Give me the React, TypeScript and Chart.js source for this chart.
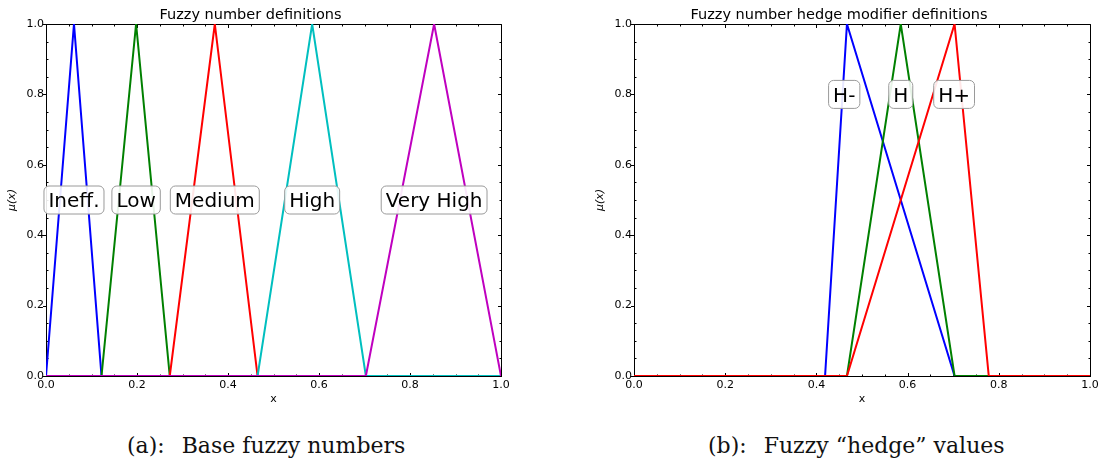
import React, { useEffect, useRef } from "react";
import { Chart, registerables } from "chart.js";

Chart.register(...registerables);

const FONT = "'DejaVu Sans', sans-serif";
const SERIF = "'DejaVu Serif', serif";

// shared axis ticks
const axisTicks = [0, 0.2, 0.4, 0.6, 0.8, 1.0];
const minorTicks = [0.05, 0.1, 0.15, 0.25, 0.3, 0.35, 0.45, 0.5, 0.55, 0.65, 0.7, 0.75, 0.85, 0.9, 0.95];

// Panel (a): base fuzzy numbers
const baseTitle = "Fuzzy number definitions";
const baseNames = ["Ineff.", "Low", "Medium", "High", "Very High"];
const baseColors = ["#0000ff", "#008000", "#ff0000", "#00bfbf", "#bf00bf"];
const ineffX = [0, 0.0615, 0.122, 1.0];
const ineffY = [0, 1, 0, 0];
const lowX = [0, 0.122, 0.198, 0.272, 1.0];
const lowY = [0, 0, 1, 0, 0];
const mediumX = [0, 0.272, 0.371, 0.465, 1.0];
const mediumY = [0, 0, 1, 0, 0];
const highX = [0, 0.465, 0.585, 0.703, 1.0];
const highY = [0, 0, 1, 0, 0];
const veryHighX = [0, 0.703, 0.853, 1.0];
const veryHighY = [0, 0, 1, 0];
const baseLabelX = [0.0615, 0.198, 0.371, 0.585, 0.853];
const baseLabelY = [0.5, 0.5, 0.5, 0.5, 0.5];

// Panel (b): hedge modifiers
const hedgeTitle = "Fuzzy number hedge modifier definitions";
const hedgeNames = ["H-", "H", "H+"];
const hedgeColors = ["#0000ff", "#008000", "#ff0000"];
const hMinusX = [0, 0.419, 0.467, 0.703, 1.0];
const hMinusY = [0, 0, 1, 0, 0];
const hX = [0, 0.467, 0.585, 0.703, 1.0];
const hY = [0, 0, 1, 0, 0];
const hPlusX = [0, 0.467, 0.703, 0.778, 1.0];
const hPlusY = [0, 0, 1, 0, 0];
const hedgeLabelX = [0.461, 0.585, 0.702];
const hedgeLabelY = [0.8, 0.8, 0.8];

type Series = { x: number[]; y: number[] };

const framePlugin = {
  id: "frameTicks",
  beforeDatasetsDraw(chart: any) {
    const { ctx, chartArea } = chart;
    const xs = chart.scales.x;
    const ys = chart.scales.y;
    const L = Math.round(chartArea.left) + 0.5;
    const R = Math.round(chartArea.right) + 0.5;
    const T = Math.round(chartArea.top) + 0.5;
    const B = Math.round(chartArea.bottom) + 0.5;
    ctx.save();
    ctx.strokeStyle = "#000";
    ctx.lineWidth = 1;
    ctx.beginPath();
    ctx.moveTo(L, T);
    ctx.lineTo(R, T);
    ctx.lineTo(R, B);
    ctx.stroke();
    const draw = (vals: number[], len: number, major: boolean) => {
      ctx.beginPath();
      for (const v of vals) {
        const px = Math.round(xs.getPixelForValue(v)) + 0.5;
        ctx.moveTo(px, B);
        ctx.lineTo(px, B - len);
        ctx.moveTo(px, T);
        ctx.lineTo(px, T + len);
        const py = Math.round(ys.getPixelForValue(v)) + 0.5;
        if (major) {
          ctx.moveTo(L - len, py);
          ctx.lineTo(L, py);
        } else {
          ctx.moveTo(L, py);
          ctx.lineTo(L + len, py);
        }
        ctx.moveTo(R, py);
        ctx.lineTo(R - len, py);
      }
      ctx.stroke();
    };
    draw(axisTicks, 3.5, true);
    draw(minorTicks, 2, false);
    ctx.restore();
  },
};

function makeLabelPlugin(texts: string[], lx: number[], ly: number[]) {
  return {
    id: "boxLabels",
    afterDatasetsDraw(chart: any) {
      const { ctx } = chart;
      const xs = chart.scales.x;
      const ys = chart.scales.y;
      ctx.save();
      ctx.font = `20px ${FONT}`;
      texts.forEach((t, i) => {
        const px = xs.getPixelForValue(lx[i]);
        const py = ys.getPixelForValue(ly[i]);
        const w = ctx.measureText(t).width;
        const bw = w + 9;
        const bh = 28;
        const x0 = px - bw / 2;
        const y0 = py - bh / 2;
        const r = 5;
        ctx.beginPath();
        ctx.moveTo(x0 + r, y0);
        ctx.lineTo(x0 + bw - r, y0);
        ctx.arcTo(x0 + bw, y0, x0 + bw, y0 + r, r);
        ctx.lineTo(x0 + bw, y0 + bh - r);
        ctx.arcTo(x0 + bw, y0 + bh, x0 + bw - r, y0 + bh, r);
        ctx.lineTo(x0 + r, y0 + bh);
        ctx.arcTo(x0, y0 + bh, x0, y0 + bh - r, r);
        ctx.lineTo(x0, y0 + r);
        ctx.arcTo(x0, y0, x0 + r, y0, r);
        ctx.closePath();
        ctx.fillStyle = "rgba(255,255,255,0.9)";
        ctx.fill();
        ctx.strokeStyle = "#9a9a9a";
        ctx.lineWidth = 1;
        ctx.stroke();
        ctx.fillStyle = "#000";
        ctx.textAlign = "center";
        ctx.textBaseline = "alphabetic";
        ctx.fillText(t, px, py + 7.3);
      });
      ctx.restore();
    },
  };
}

type PanelProps = {
  left: number;
  width: number;
  plotWidth: number;
  title: string;
  series: Series[];
  names: string[];
  colors: string[];
  labelX: number[];
  labelY: number[];
};

const CANVAS_H = 410;
const PLOT_BOTTOM = 376;
const Y_AXIS_W = 46;

function Panel(props: PanelProps) {
  const ref = useRef<HTMLCanvasElement | null>(null);
  useEffect(() => {
    if (!ref.current) return;
    const tickFont = { family: FONT, size: 11, lineHeight: 1.2 };
    const chart = new Chart(ref.current, {
      type: "line",
      data: {
        datasets: props.series.map((s, i) => ({
          label: props.names[i],
          data: s.x.map((x, j) => ({ x, y: s.y[j] })),
          borderColor: props.colors[i],
          backgroundColor: props.colors[i],
          borderWidth: 2,
          pointRadius: 0,
          fill: false,
          tension: 0,
          order: props.series.length - i,
        })),
      },
      options: {
        animation: false,
        responsive: false,
        devicePixelRatio: 1,
        layout: {
          padding: { left: 0, top: 0, bottom: 0, right: props.width - Y_AXIS_W - props.plotWidth },
        },
        plugins: {
          legend: { display: false },
          tooltip: { enabled: false },
          title: {
            display: true,
            text: props.title,
            color: "#000",
            font: { family: FONT, size: 14.5, weight: "normal", lineHeight: 1.2 },
            padding: { top: 6.3, bottom: 0.3 },
          },
        },
        scales: {
          x: {
            type: "linear",
            min: 0,
            max: 1,
            position: "bottom",
            afterFit: (s: any) => {
              s.height = CANVAS_H - PLOT_BOTTOM;
            },
            afterBuildTicks: (s: any) => {
              s.ticks = axisTicks.map((v) => ({ value: v }));
            },
            ticks: {
              font: tickFont,
              color: "#000",
              padding: 3,
              maxRotation: 0,
              autoSkip: false,
              callback: (v: any) => Number(v).toFixed(1),
            },
            grid: { display: false, drawTicks: false },
            border: { display: true, color: "#000", width: 1 },
            title: {
              display: true,
              text: "x",
              color: "#000",
              font: tickFont,
              padding: { top: 0, bottom: 4.4 },
            },
          },
          y: {
            type: "linear",
            min: 0,
            max: 1,
            position: "left",
            afterFit: (s: any) => {
              s.width = Y_AXIS_W;
            },
            afterBuildTicks: (s: any) => {
              s.ticks = axisTicks.map((v) => ({ value: v }));
            },
            ticks: {
              font: tickFont,
              color: "#000",
              padding: 2,
              autoSkip: false,
              callback: (v: any) => Number(v).toFixed(1),
            },
            grid: { display: false, drawTicks: false },
            border: { display: true, color: "#000", width: 1 },
            title: {
              display: true,
              text: "μ(x)",
              color: "#000",
              font: { family: FONT, size: 11, style: "italic", lineHeight: 1.2 },
              padding: { top: 5.9, bottom: 0 },
            },
          },
        },
      },
      plugins: [framePlugin, makeLabelPlugin(props.names, props.labelX, props.labelY)],
    } as any);
    return () => chart.destroy();
  }, []);
  return (
    <canvas
      ref={ref}
      width={props.width}
      height={CANVAS_H}
      style={{ position: "absolute", left: props.left, top: 0, width: props.width, height: CANVAS_H }}
    />
  );
}

export default function App() {
  const captionStyle: React.CSSProperties = {
    position: "absolute",
    top: 433,
    font: `22px ${SERIF}`,
    lineHeight: "26px",
    whiteSpace: "pre",
    color: "#111",
  };
  return (
    <div
      style={{
        position: "absolute",
        left: 0,
        top: 0,
        width: 1102,
        height: 464,
        background: "#fff",
        overflow: "hidden",
      }}
    >
      <Panel
        left={0}
        width={540}
        plotWidth={455}
        title={baseTitle}
        series={[
          { x: ineffX, y: ineffY },
          { x: lowX, y: lowY },
          { x: mediumX, y: mediumY },
          { x: highX, y: highY },
          { x: veryHighX, y: veryHighY },
        ]}
        names={baseNames}
        colors={baseColors}
        labelX={baseLabelX}
        labelY={baseLabelY}
      />
      <Panel
        left={588}
        width={514}
        plotWidth={456}
        title={hedgeTitle}
        series={[
          { x: hMinusX, y: hMinusY },
          { x: hX, y: hY },
          { x: hPlusX, y: hPlusY },
        ]}
        names={hedgeNames}
        colors={hedgeColors}
        labelX={hedgeLabelX}
        labelY={hedgeLabelY}
      />
      <div style={{ ...captionStyle, left: 127 }}>
        (a):<span style={{ marginLeft: 17 }}>Base fuzzy numbers</span>
      </div>
      <div style={{ ...captionStyle, left: 708 }}>
        (b):<span style={{ marginLeft: 17 }}>Fuzzy “hedge” values</span>
      </div>
    </div>
  );
}
